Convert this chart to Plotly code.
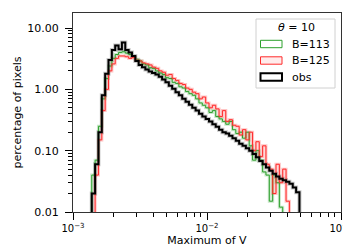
import numpy as np
import plotly.graph_objects as go

# ---- data ----
log_edge_start = -2.86
log_bin_width = 0.025
n_bins = 62

obs = [0.02, 0.06, 0.2, 0.8, 1.8, 3.0, 4.4, 5.2, 4.5, 5.8,
       4.4, 4.0, 3.5, 2.9, 2.5, 2.3, 2.1, 1.95, 1.85, 1.75,
       1.6, 1.45, 1.3, 1.15, 1.02, 0.9, 0.8, 0.7, 0.63, 0.56,
       0.5, 0.45, 0.4, 0.36, 0.33, 0.30, 0.27, 0.245, 0.22, 0.20,
       0.19, 0.175, 0.16, 0.145, 0.13, 0.12, 0.11, 0.10, 0.088, 0.078,
       0.068, 0.060, 0.053, 0.047, 0.042, 0.038, 0.035, 0.033, 0.031, 0.029,
       0.025, 0.021]

b113 = [0.04, 0.07, 0.25, 0.7, 1.5, 2.4, 3.2, 3.7, 4.0, 4.1,
        3.9, 3.7, 3.4, 3.1, 2.9, 2.6, 2.5, 2.25, 2.2, 2.0,
        1.85, 1.75, 1.55, 1.5, 1.3, 1.25, 1.1, 1.05, 0.92, 0.85,
        0.8, 0.7, 0.6, 0.55, 0.5, 0.42, 0.45, 0.36, 0.33, 0.3,
        0.27, 0.3, 0.22, 0.19, 0.2, 0.16, 0.2, 0.12, 0.07, 0.1,
        0.07, 0.045, 0.04, 0.015, 0.04, 0.03, 0.012, 0, 0, 0,
        0, 0]

b125 = [0, 0.04, 0.15, 0.45, 1.0, 2.0, 2.6, 3.2, 3.5, 3.5,
        3.4, 3.2, 3.3, 3.0, 2.9, 2.7, 2.6, 2.5, 2.3, 2.2,
        2.0, 1.9, 1.7, 1.75, 1.5, 1.4, 1.25, 1.2, 1.05, 1.0,
        0.9, 0.85, 0.7, 0.75, 0.6, 0.5, 0.55, 0.48, 0.36, 0.45,
        0.3, 0.32, 0.26, 0.25, 0.18, 0.22, 0.15, 0.2, 0.1, 0.14,
        0.08, 0.12, 0.06, 0.05, 0.02, 0.06, 0.03, 0.05, 0.015, 0,
        0, 0]

y_tick_vals = [0.01, 0.1, 1, 10]
y_tick_text = ["0.01", "0.10", "1.00", "10.00"]
x_tick_vals = [1e-3, 1e-2, 1e-1]
x_tick_text = ["10<sup>\u22123</sup>", "10<sup>\u22122</sup>", "10<sup>\u22121</sup>"]

legend_title = "<i>\u03b8</i> = 10"
names = ["B=113", "B=125", "obs"]

# ---- helpers ----
edges = 10 ** (log_edge_start + log_bin_width * np.arange(n_bins + 1))
FLOOR = 1e-5


def step_path(vals):
    xs, ys = [edges[0]], [FLOOR]
    for i, v in enumerate(vals):
        vv = v if v > 0 else FLOOR
        xs += [edges[i], edges[i + 1]]
        ys += [vv, vv]
    xs.append(edges[-1])
    ys.append(FLOOR)
    return xs, ys


GREEN = "#2ca02c"
RED = "#ff2a2a"
BLACK = "#000000"

fig = go.Figure()

series = [(b113, GREEN, "rgba(44,160,44,0.25)", 1.0),
          (b125, RED, "rgba(255,60,60,0.30)", 1.0),
          (obs, BLACK, "rgba(0,0,0,0.22)", 2.0)]

for vals, col, halo, w in series:
    xs, ys = step_path(vals)
    fig.add_trace(go.Scatter(x=xs, y=ys, mode="lines",
                             line=dict(color=halo, width=w + 2.0),
                             hoverinfo="skip", showlegend=False))
for (vals, col, halo, w), nm in zip(series, names):
    xs, ys = step_path(vals)
    fig.add_trace(go.Scatter(x=xs, y=ys, mode="lines", name=nm,
                             line=dict(color=col, width=w),
                             showlegend=False))

minor_x = [k * 10 ** e for e in (-3, -2) for k in range(2, 10)]
minor_y = [k * 10 ** e for e in (-2, -1, 0, 1) for k in range(2, 10)]

FS = 11
axis_font = dict(family="DejaVu Sans", size=FS, color="black")
xtick_font = dict(family="DejaVu Sans", size=10, color="black")

fig.update_xaxes(type="log", range=[-3, -1],
                 tickvals=x_tick_vals, ticktext=x_tick_text,
                 ticks="outside", ticklen=7, tickwidth=1, tickcolor="black",
                 minor=dict(tickvals=minor_x, ticks="outside", ticklen=4,
                            tickwidth=1, tickcolor="black", showgrid=False),
                 showline=True, linecolor="#333333", linewidth=1, mirror=True,
                 showgrid=False, zeroline=False,
                 tickfont=xtick_font,
                 title=dict(text="Maximum of V", font=axis_font, standoff=3))
fig.update_yaxes(type="log", range=[-2, 1.245],
                 tickvals=y_tick_vals, ticktext=y_tick_text,
                 ticks="outside", ticklen=7, tickwidth=1, tickcolor="black",
                 minor=dict(tickvals=minor_y, ticks="outside", ticklen=4,
                            tickwidth=1, tickcolor="black", showgrid=False),
                 showline=True, linecolor="#333333", linewidth=1, mirror=True,
                 showgrid=False, zeroline=False,
                 tickfont=axis_font, ticklabelstandoff=4,
                 title=dict(text="percentage of pixels", font=axis_font, standoff=3))

# ---- manual legend (paper coords from pixel layout) ----
L, R, T, B = 65, 333, 5, 204


def px(x):
    return (x - L) / (R - L)


def py(y):
    return (B - y) / (B - T)


shapes = [dict(type="rect", xref="paper", yref="paper",
               x0=px(248), x1=px(327), y0=py(80), y1=py(11),
               line=dict(color="#d0d0d0", width=1), fillcolor="rgba(255,255,255,0.85)",
               layer="above")]
entries = [(GREEN, "rgba(0,0,0,0)", 1, 36),
           (RED, "rgba(255,120,120,0.15)", 1, 52.5),
           (BLACK, "rgba(0,0,0,0)", 2, 69)]
annotations = [dict(text=legend_title, xref="paper", yref="paper",
                    x=px(288), y=py(19.5), showarrow=False,
                    font=dict(family="DejaVu Sans", size=FS, color="black"),
                    xanchor="center", yanchor="middle")]
for (col, fill, w, yc), nm in zip(entries, names):
    shapes.append(dict(type="rect", xref="paper", yref="paper",
                       x0=px(252.5), x1=px(274), y0=py(yc + 3.7), y1=py(yc - 3.7),
                       line=dict(color=col, width=w), fillcolor=fill, layer="above"))
    annotations.append(dict(text=nm, xref="paper", yref="paper",
                            x=px(282), y=py(yc), showarrow=False,
                            font=dict(family="DejaVu Sans", size=FS, color="black"),
                            xanchor="left", yanchor="middle"))

fig.update_layout(width=351, height=249,
                  margin=dict(l=L, r=351 - R, t=T, b=249 - B),
                  paper_bgcolor="white", plot_bgcolor="white",
                  shapes=shapes, annotations=annotations,
                  showlegend=False)

fig.write_html("out.html")
